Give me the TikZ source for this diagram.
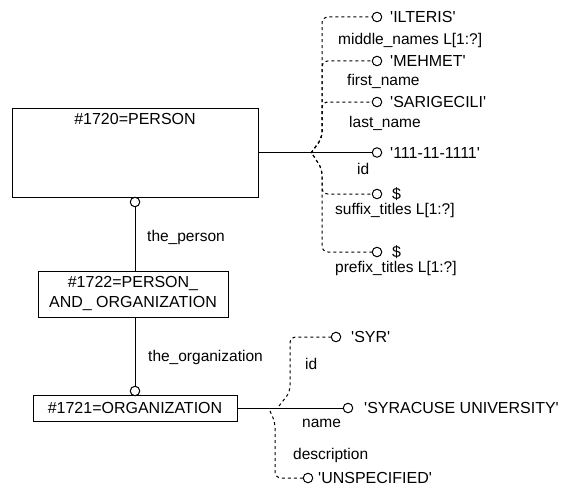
\documentclass[tikz,border=0pt]{standalone}
\usepackage{fontspec}
\setmainfont{Liberation Sans}[Ligatures=TeXOff]
\begin{document}
\begin{tikzpicture}[x=1pt,y=-1pt,
  every node/.style={inner sep=0pt, font=\fontsize{16}{20}\selectfont},
  ln/.style={line width=1pt},
  boxst/.style={draw, line width=1pt},
  lbl/.style={anchor=west, font=\fontsize{15.5}{19}\selectfont},
  val/.style={anchor=west},
  dot/.style={draw, circle, minimum size=9.5pt, inner sep=0pt, line width=1pt, fill=white},
  dsh/.style={dash pattern=on 3pt off 3pt, line width=1pt, rounded corners=6pt}]
\useasboundingbox (0,0) rectangle (567,487);

% entity boxes
\node[boxst, minimum width=246pt, minimum height=89pt] (person) at (135,152.5) {};
\node (personT) at (135,119) {\#1720=PERSON};
\node[boxst, minimum width=190pt, minimum height=46pt, align=center] (pao) at (133,294) {\#1722=PERSON\_\\AND\_ ORGANIZATION};
\node[boxst, minimum width=204pt, minimum height=26pt] (org) at (135,408) {\#1721=ORGANIZATION};

% relation circles
\node[dot] (cp) at (135,202) {};
\node[dot] (co) at (135,391) {};
\draw[ln] (cp.south) -- (cp.south |- pao.north);
\draw[ln] (co.north |- pao.south) -- (co.north);
\node[lbl] (lp) at (147,237) {the\_person};
\node[lbl] (lo) at (148,357) {the\_organization};

% person attributes
\node[dot] (v1) at (377,17) {};
\node[dot] (v2) at (377,61) {};
\node[dot] (v3) at (377,102) {};
\node[dot] (v4) at (377,152.5) {};
\node[dot] (v5) at (377,194) {};
\node[dot] (v6) at (377,252) {};
\node[val] (t1) at (390,17) {'ILTERIS'};
\node[val] (t2) at (390,61) {'MEHMET'};
\node[val] (t3) at (390,102) {'SARIGECILI'};
\node[val] (t4) at (390,152.5) {'111-11-1111'};
\node[val] (t5) at (392,194) {\$};
\node[val] (t6) at (392,252) {\$};
\node[lbl] (a1) at (338,40) {middle\_names L[1:?]};
\node[lbl] (a2) at (347,81) {first\_name};
\node[lbl] (a3) at (349,123) {last\_name};
\node[lbl] (a4) at (357,169) {id};
\node[lbl] (a5) at (335,210) {suffix\_titles L[1:?]};
\node[lbl] (a6) at (335,268) {prefix\_titles L[1:?]};

\coordinate (j1) at (311,153);
\coordinate (ju) at (322,138);
\coordinate (j1d) at (313,155);
\coordinate (jd) at (322,169);
\draw[ln] (person.east) -- (v4.west);
\draw[dsh] (j1) -- (ju) -- (ju |- v1) -- (v1.west);
\draw[dsh] (j1) -- (ju) -- (ju |- v2) -- (v2.west);
\draw[dsh] (j1) -- (ju) -- (ju |- v3) -- (v3.west);
\draw[dsh] (j1d) -- (jd) -- (jd |- v5) -- (v5.west);
\draw[dsh] (j1d) -- (jd) -- (jd |- v6) -- (v6.west);

% organization attributes
\node[dot] (s1) at (336,337) {};
\node[dot] (s2) at (348,408) {};
\node[dot] (s3) at (308,478) {};
\node[val] (u1) at (351,337) {'SYR'};
\node[val] (u2) at (364,408) {'SYRACUSE UNIVERSITY'};
\node[val] (u3) at (318,478) {'UNSPECIFIED'};
\node[lbl] (b1) at (305,364) {id};
\node[lbl] (b2) at (302,423) {name};
\node[lbl] (b3) at (293,455) {description};

\coordinate (j2) at (279,406);
\coordinate (k2u) at (290,392);
\coordinate (j2d) at (270,411);
\coordinate (k2d) at (275,422);
\draw[ln] (org.east) -- (s2.west);
\draw[dsh] (j2) -- (k2u) -- (k2u |- s1) -- (s1.west);
\draw[dsh] (j2d) -- (k2d) -- (k2d |- s3) -- (s3.west);
\end{tikzpicture}
\end{document}
